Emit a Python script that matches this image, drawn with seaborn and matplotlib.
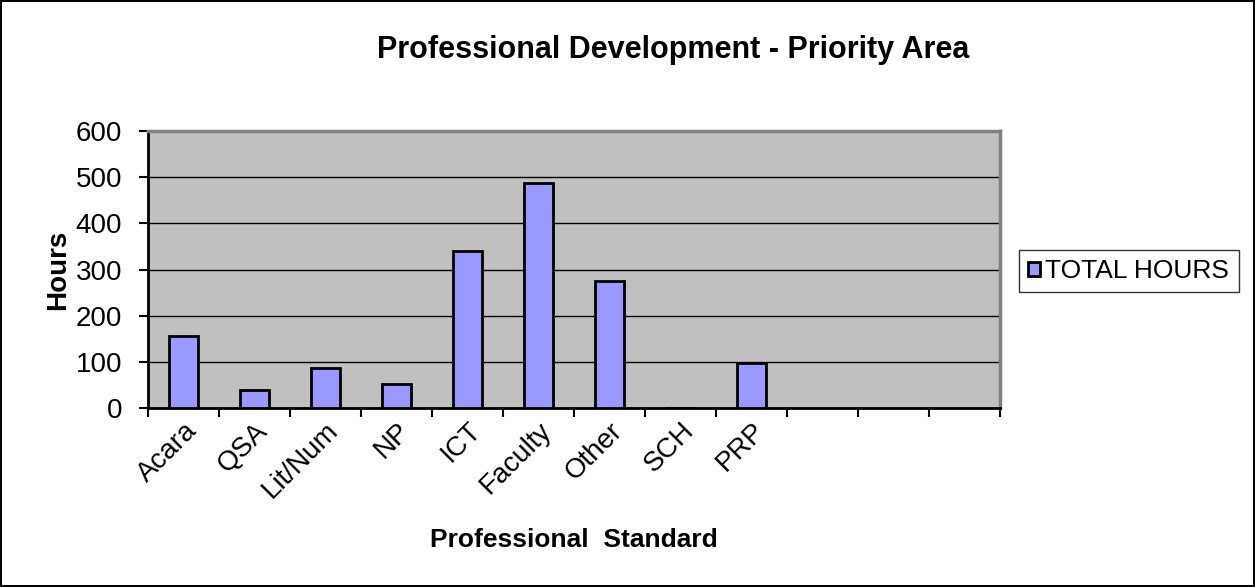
import numpy as np
import pandas as pd
import seaborn as sns
import matplotlib
matplotlib.use('Agg')
import matplotlib.pyplot as plt
from matplotlib.ticker import FixedLocator, NullFormatter

# === data ===
categories = ['Acara', 'QSA', 'Lit/Num', 'NP', 'ICT', 'Faculty', 'Other', 'SCH', 'PRP']
total_hours = [157, 38, 87, 53, 341, 488, 276, 0, 97]
n_slots = 12  # Excel chart has 3 empty category slots at the end
y_ticks = [0, 100, 200, 300, 400, 500, 600]

sns.set_theme(style='white')
plt.rcParams['font.family'] = ['Liberation Sans', 'DejaVu Sans']
plt.rcParams['text.color'] = 'black'
plt.rcParams['axes.labelcolor'] = 'black'
plt.rcParams['xtick.color'] = 'black'
plt.rcParams['ytick.color'] = 'black'

slot_names = categories + [f'_empty{i}' for i in range(n_slots - len(categories))]
slot_values = total_hours + [np.nan] * (n_slots - len(categories))
df = pd.DataFrame({'area': slot_names, 'hours': slot_values})

fig = plt.figure(figsize=(12.55, 5.87), dpi=100)
fig.patch.set_facecolor('white')
fig.patch.set_edgecolor('black')
fig.patch.set_linewidth(1.5)
ax = fig.add_axes([148 / 1255, 1 - 408 / 587, 852 / 1255, 277 / 587])

sns.barplot(data=df, x='area', y='hours', order=slot_names, color='#9999FF',
            edgecolor='black', linewidth=2, width=0.41, saturation=1,
            label='TOTAL HOURS', ax=ax, zorder=3)

ax.set_facecolor('#C0C0C0')
ax.set_xlim(-0.5, n_slots - 0.5)
ax.set_ylim(0, 600)
ax.set_yticks(y_ticks)
ax.yaxis.grid(True, color='black', linewidth=1)
ax.set_axisbelow(True)

# ticks at category boundaries, labels at category centres
ax.xaxis.set_major_locator(FixedLocator(np.arange(n_slots + 1) - 0.5))
ax.xaxis.set_major_formatter(NullFormatter())
ax.xaxis.set_minor_locator(FixedLocator(np.arange(len(categories))))
ax.set_xticklabels(categories, minor=True, rotation=45, ha='right',
                   rotation_mode='anchor', fontsize=20)
ax.tick_params(axis='x', which='major', direction='out', length=6.5, width=1.5,
               color='black', bottom=True)
ax.tick_params(axis='x', which='minor', length=0, pad=7)
ax.tick_params(axis='y', direction='out', length=6.5, width=1.5, color='black',
               left=True, labelsize=20, pad=12)

for side in ['left', 'bottom']:
    ax.spines[side].set_color('black')
    ax.spines[side].set_linewidth(2)
for side in ['top', 'right']:
    ax.spines[side].set_color('#808080')
    ax.spines[side].set_linewidth(2.5)

ax.set_xlabel('Professional  Standard', fontsize=19, fontweight='bold')
ax.xaxis.set_label_coords(0.5, -(528 - 408) / 277)
ax.set_ylabel('Hours', fontsize=20, fontweight='bold')
ax.yaxis.set_label_coords(-(148 - 71) / 852, 0.5)
fig.text(673 / 1255, 1 - 50 / 587, 'Professional Development - Priority Area',
         ha='center', va='center', fontsize=22, fontweight='bold')

handles, labels = ax.get_legend_handles_labels()
if ax.get_legend() is not None:
    ax.get_legend().remove()
leg = fig.legend(handles, labels, loc='center left',
                 bbox_to_anchor=(1019 / 1255, 1 - 271 / 587), fontsize=19,
                 frameon=True, fancybox=False, handlelength=0.45, handleheight=0.45,
                 handletextpad=0.2, borderpad=0.35, borderaxespad=0)
leg.get_frame().set_edgecolor('black')
leg.get_frame().set_linewidth(1)

fig.savefig('out.png', dpi=100, facecolor=fig.get_facecolor(),
            edgecolor=fig.get_edgecolor())
